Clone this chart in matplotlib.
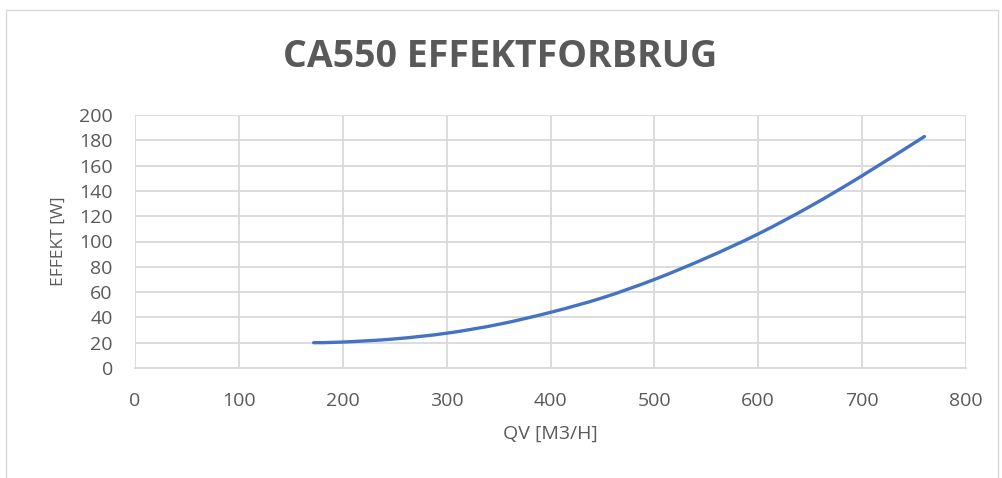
import matplotlib
matplotlib.use("Agg")
import matplotlib.pyplot as plt
from matplotlib.patches import Rectangle, PathPatch
from matplotlib.path import Path

# values
qv = [172, 200, 250, 300, 350, 400, 450, 500, 550, 600, 650, 700, 760]
effekt = [20.0, 20.5, 23.0, 27.5, 34.5, 44.0, 55.5, 70.0, 87.0, 106.0, 127.8, 152.0, 183.0]

x_ticks = [0, 100, 200, 300, 400, 500, 600, 700, 800]
y_ticks = [0, 20, 40, 60, 80, 100, 120, 140, 160, 180, 200]

TEXT = "#595959"
GRID = "#d9d9d9"
LINE = "#4472c4"

plt.rcParams["font.family"] = ["Open Sans", "DejaVu Sans"]


def smooth_path(xs, ys):
    # Excel-style smoothed line: cubic bezier segments through the data points
    pts = list(zip(xs, ys))
    verts = [pts[0]]
    codes = [Path.MOVETO]
    n = len(pts)
    for i in range(n - 1):
        p0 = pts[max(i - 1, 0)]
        p1 = pts[i]
        p2 = pts[i + 1]
        p3 = pts[min(i + 2, n - 1)]
        c1 = (p1[0] + (p2[0] - p0[0]) / 6, p1[1] + (p2[1] - p0[1]) / 6)
        c2 = (p2[0] - (p3[0] - p1[0]) / 6, p2[1] - (p3[1] - p1[1]) / 6)
        verts += [c1, c2, p2]
        codes += [Path.CURVE4] * 3
    return Path(verts, codes)


fig = plt.figure(figsize=(10.02, 4.78), dpi=100)
fig.patches.append(Rectangle((6 / 1002, -0.01), 992 / 1002, 1 - 10 / 478 + 0.01,
                             transform=fig.transFigure, fill=False,
                             edgecolor=GRID, linewidth=1.0))

ax = fig.add_axes([135 / 1002, 1 - 368 / 478, (966 - 135) / 1002, (368 - 115) / 478])
ax.add_patch(PathPatch(smooth_path(qv, effekt), facecolor="none", edgecolor=LINE,
                       linewidth=2.4, capstyle="round", zorder=3))

ax.set_xlim(0, 800)
ax.set_ylim(0, 200)
ax.set_xticks(x_ticks)
ax.set_yticks(y_ticks)
ax.grid(True, color=GRID, linewidth=1.3)
ax.set_axisbelow(True)
for side in ["top", "right", "left"]:
    ax.spines[side].set_visible(False)
ax.spines["bottom"].set_color(GRID)
ax.spines["bottom"].set_linewidth(1.3)
ax.tick_params(length=0, labelsize=14, colors=TEXT)
ax.tick_params(axis="y", pad=16)
ax.tick_params(axis="x", pad=17)

ax.set_xlabel("QV [M3/H]", fontsize=14, color=TEXT, labelpad=11)
ax.set_ylabel("EFFEKT [W]", fontsize=12.5, color=TEXT, labelpad=9)

fig.text(0.499, 1 - 57 / 478, "CA550 EFFEKTFORBRUG", ha="center", va="center",
         fontsize=27, fontweight="bold", color=TEXT)

fig.savefig("out.png", dpi=100)
